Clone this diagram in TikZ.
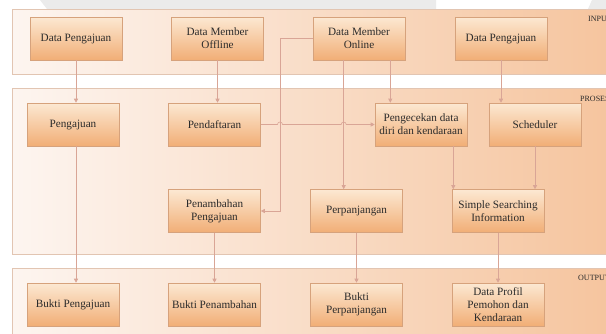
\documentclass[tikz,border=0pt]{standalone}
\usepackage{fontspec}
\setmainfont{Liberation Serif}
\usetikzlibrary{arrows.meta,calc}
\definecolor{boxtop}{HTML}{FCE8D2}
\definecolor{boxbot}{HTML}{F1AE76}
\definecolor{boxline}{HTML}{D6A27C}
\definecolor{panleft}{HTML}{FDF5F0}
\definecolor{panright}{HTML}{F5C29A}
\definecolor{panline}{HTML}{E2C5B2}
\definecolor{conn}{HTML}{D9A596}
\definecolor{txt}{HTML}{2B2B2B}
\definecolor{topgrey}{HTML}{EBEBEB}
\begin{document}
\begin{tikzpicture}[x=1pt,y=-1pt]
\tikzset{
  bx/.style={draw=boxline, line width=0.6pt, top color=boxtop, bottom color=boxbot,
    minimum width=92pt, minimum height=43pt, align=center, text=txt,
    font=\fontsize{11.2}{13.3}\selectfont, inner sep=2pt},
  panel/.style={draw=panline, line width=0.8pt, left color=panleft, right color=panright},
  arr/.style={draw=conn, line width=0.6pt, -{Triangle[width=4pt,length=4pt]}},
  tag/.style={anchor=west, text=txt, font=\fontsize{8}{9}\selectfont, inner sep=0pt}
}
\useasboundingbox (0,0) rectangle (606,333);
\clip (0,0) rectangle (606,333);
\fill[white] (0,0) rectangle (606,333);
% top band
\fill[topgrey] (40,0) -- (436,0) -- (436,9) -- (47,9) -- cycle;
\fill[topgrey] (592,0) -- (606,0) -- (606,9) -- (588,9) -- cycle;
% panels
\path[panel] (12,9) rectangle (640,74);
\path[panel] (12,88) rectangle (640,254);
\path[panel] (12,268) rectangle (640,360);
\node[tag] (tin) at (588,19) {INPUT};
\node[tag] (tpr) at (580,99) {PROSES};
\node[tag] (tout) at (578,278) {OUTPUT};
% input
\node[bx] (dp1) at (76,38.5) {Data Pengajuan};
\node[bx] (off) at (217.5,38.5) {Data Member\\Offline};
\node[bx] (onl) at (359,38.5) {Data Member\\Online};
\node[bx] (dp2) at (501,38.5) {Data Pengajuan};
% process
\node[bx] (peng) at (73,124.5) {Pengajuan};
\node[bx] (pend) at (214.5,124.5) {Pendaftaran};
\node[bx] (cek) at (421,124.5) {Pengecekan data\\diri dan kendaraan};
\node[bx] (sch) at (535,124.5) {Scheduler};
\node[bx] (tamb) at (214.5,211) {Penambahan\\Pengajuan};
\node[bx] (panj) at (356.5,211) {Perpanjangan};
\node[bx] (ssi) at (498,211) {Simple Searching\\Information};
% output
\node[bx] (b1) at (73,304.5) {Bukti Pengajuan};
\node[bx] (b2) at (214.5,304.5) {Bukti Penambahan};
\node[bx] (b3) at (356.5,304.5) {Bukti\\Perpanjangan};
\node[bx] (prof) at (498,304.5) {Data Profil\\Pemohon dan\\Kendaraan};
% helper coordinates
\coordinate (xa) at (280,0);
\coordinate (o1) at ([xshift=31pt]onl.south west);
\coordinate (o2) at ([xshift=-15pt]onl.south east);
\coordinate (c1) at ([xshift=-14pt]cek.south east);
\coordinate (p1) at (dp1.south);
\coordinate (p2) at (off.south);
\coordinate (p3) at (dp2.south);
\coordinate (p4) at (sch.south);
% connectors
\draw[arr] (p1) -- (p1 |- peng.north);
\draw[arr] (p1 |- peng.south) -- (p1 |- b1.north);
\draw[arr] (p2) -- (p2 |- pend.north);
\draw[arr] (p3) -- (p3 |- sch.north);
\draw[arr] (o2) -- (o2 |- cek.north);
\draw[arr] (o1) -- (o1 |- panj.north);
\draw[arr] (onl.west) -- (onl.west -| xa) -- (xa |- tamb.east) -- (tamb.east);
\draw[arr] (pend.east) -- ($(xa |- pend.east)+(-2.5,0)$)
   arc[start angle=180,end angle=360,radius=2.5]
   -- ($(o1 |- pend.east)+(-2.5,0)$)
   arc[start angle=180,end angle=360,radius=2.5]
   -- (cek.west);
\draw[arr] (c1) -- (c1 |- ssi.north);
\draw[arr] (p4) -- (p4 |- ssi.north);
\draw[arr] (tamb.south) -- (b2.north);
\draw[arr] (panj.south) -- (b3.north);
\draw[arr] (ssi.south) -- (prof.north);
\end{tikzpicture}
\end{document}
